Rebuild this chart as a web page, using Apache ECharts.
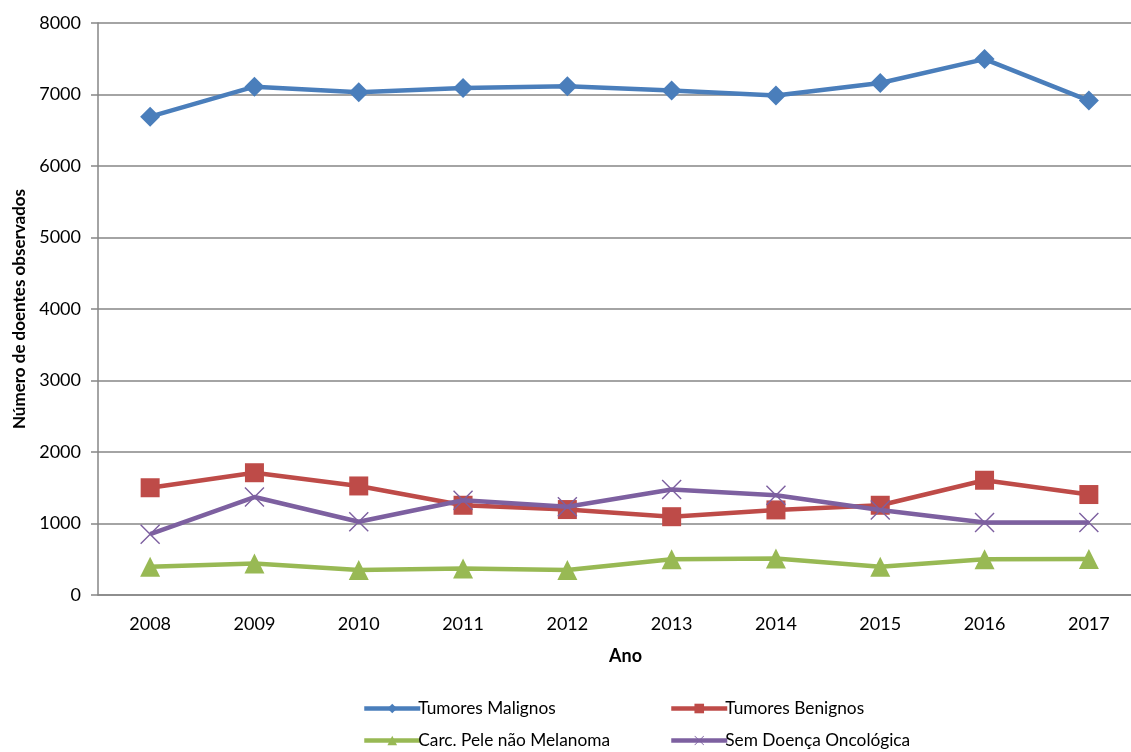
<!DOCTYPE html>
<html>
<head>
<meta charset="utf-8">
<script src="https://cdn.jsdelivr.net/npm/echarts@6/dist/echarts.min.js"></script>
<style>
html,body{margin:0;padding:0;background:#fff;}
#chart{width:1131px;height:752px;}
</style>
</head>
<body>
<div id="chart"></div>
<script>
const years = ['2008','2009','2010','2011','2012','2013','2014','2015','2016','2017'];
const tumoresMalignos = [6690, 7110, 7030, 7090, 7115, 7055, 6985, 7160, 7495, 6915];
const tumoresBenignos = [1500, 1710, 1525, 1255, 1195, 1095, 1190, 1255, 1605, 1405];
const carcPele = [395, 440, 350, 370, 350, 500, 510, 395, 500, 505];
const semDoenca = [850, 1370, 1025, 1325, 1235, 1475, 1395, 1190, 1015, 1015];
const seriesNames = ['Tumores Malignos','Tumores Benignos','Carc. Pele não Melanoma','Sem Doença Oncológica'];

const FONT = 'Lato, "Open Sans", sans-serif';
const xSym = 'path://M0,1 L1,0 L10,9 L19,0 L20,1 L11,10 L20,19 L19,20 L10,11 L1,20 L0,19 L9,10 Z';
const colors = ['#4A7EBB','#BE4B48','#98B954','#7D60A0'];
const symbols = ['diamond','rect','triangle', xSym];
const sizes = [20, 19, 20, 20];
const dataArr = [tumoresMalignos, tumoresBenignos, carcPele, semDoenca];

const chart = echarts.init(document.getElementById('chart'));

function legendAt(name, left, top){
  return {
    data:[name], left:left, top:top, itemWidth:56, itemHeight:12,
    lineStyle:{width:4.5},
    textStyle:{fontFamily:FONT, fontSize:17.3, color:'#000', padding:[0,0,0,-7]},
    padding:0
  };
}

chart.setOption({
  animation:false,
  backgroundColor:'#fff',
  grid:{left:98, top:23, width:1043, height:572, containLabel:false, outerBoundsMode:'none'},
  legend:[
    legendAt(seriesNames[0], 362, 700),
    legendAt(seriesNames[1], 669, 700),
    legendAt(seriesNames[2], 362, 732),
    legendAt(seriesNames[3], 669, 732)
  ],
  xAxis:{
    type:'category', data:years, boundaryGap:true,
    axisLine:{lineStyle:{color:'#868686', width:1.5}},
    axisTick:{show:false},
    axisLabel:{fontFamily:FONT, fontSize:18, color:'#000', margin:20},
    name:'Ano', nameLocation:'middle', nameGap:52,
    nameTextStyle:{fontFamily:FONT, fontSize:18, fontWeight:'bold', color:'#000', padding:[0,0,0,12]}
  },
  yAxis:{
    type:'value', min:0, max:8000, interval:1000,
    axisLine:{show:true, lineStyle:{color:'#868686', width:1.5}},
    axisTick:{show:true, length:7, lineStyle:{color:'#868686', width:1.5}},
    splitLine:{lineStyle:{color:'#868686', width:1.5}},
    axisLabel:{fontFamily:FONT, fontSize:18, color:'#000', margin:17, formatter:(v)=>String(v)},
    name:'Número de doentes observados', nameLocation:'middle', nameGap:70,
    nameTextStyle:{fontFamily:FONT, fontSize:17, fontWeight:'bold', color:'#000'}
  },
  series: seriesNames.map((n,i)=>({
    name:n, type:'line', data:dataArr[i],
    symbol:symbols[i], symbolSize:sizes[i],
    showAllSymbol:true,
    lineStyle:{color:colors[i], width:4.5},
    itemStyle:{color:colors[i]},
    z: i===3 ? 5 : 3
  }))
});
</script>
</body>
</html>
